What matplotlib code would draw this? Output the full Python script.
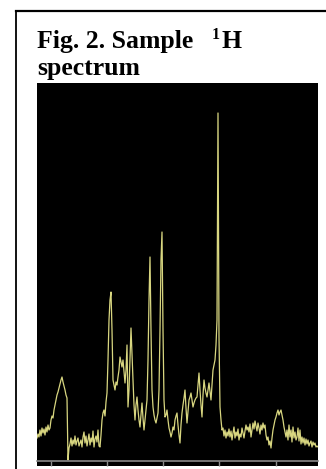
import numpy as np
import matplotlib
matplotlib.use("Agg")
import matplotlib.pyplot as plt
from matplotlib.lines import Line2D
from matplotlib.patches import Rectangle

# Spectrum trace (one sample per screen column)
intensity = [
    23, 27, 24, 31, 25, 33, 28, 32, 26, 34, 29, 36, 31, 33, 41, 45, 43, 51, 56, 61,
    66, 69, 73, 77, 81, 84, 79, 75, 71, 66, 63, 1, 13, 17, 23, 15, 21, 17, 25, 16,
    20, 23, 15, 18, 21, 14, 24, 29, 18, 25, 15, 21, 27, 16, 23, 19, 30, 14, 22, 25,
    19, 31, 15, 14, 26, 41, 48, 51, 45, 59, 68, 101, 141, 161, 169, 131, 81, 76, 71, 79,
    76, 84, 91, 104, 99, 94, 101, 89, 78, 91, 116, 54, 71, 101, 133, 106, 81, 56, 41, 56,
    64, 51, 41, 34, 46, 58, 43, 31, 41, 51, 61, 101, 161, 204, 131, 71, 54, 46, 41, 38,
    43, 48, 71, 131, 201, 229, 131, 61, 44, 46, 51, 41, 33, 29, 24, 28, 34, 31, 41, 45,
    48, 36, 26, 18, 36, 48, 56, 63, 71, 53, 38, 49, 61, 64, 68, 61, 54, 58, 61, 63,
    64, 76, 88, 71, 56, 44, 66, 81, 73, 68, 64, 71, 78, 69, 61, 76, 91, 96, 101, 116,
    141, 348, 124, 54, 41, 31, 33, 25, 31, 23, 29, 25, 32, 24, 30, 21, 28, 34, 23, 29,
    25, 32, 21, 27, 24, 33, 28, 23, 30, 36, 31, 34, 29, 37, 24, 31, 38, 32, 40, 35,
    30, 38, 33, 27, 36, 31, 38, 33, 36, 26, 21, 24, 16, 20, 13, 23, 31, 36, 41, 44,
    48, 51, 46, 49, 51, 46, 41, 34, 29, 24, 31, 21, 36, 24, 31, 19, 34, 23, 29, 21,
    24, 33, 20, 31, 17, 24, 18, 23, 16, 22, 17, 21, 15, 18, 20, 14, 19, 16, 18, 14,
    15, 14,
]
tick_pos = [14, 70, 126, 182, 239]

W, H = 326, 469
fig = plt.figure(figsize=(W / 100, H / 100), dpi=100)
fig.patch.set_facecolor("white")

def px(x, y):
    return x / W, 1 - y / H

# panel: x 37..318, axis line at y=461, top at y=83
ax = fig.add_axes([37 / W, (H - 461) / H, (318 - 37) / W, (461 - 83) / H])
ax.set_facecolor("black")
pos = np.arange(len(intensity))
ax.plot(pos, intensity, color="#d8d680", lw=0.9)
ax.set_xlim(0, 281)
ax.set_ylim(0, 378)
for s in ["top", "left", "right"]:
    ax.spines[s].set_visible(False)
ax.spines["bottom"].set_color("#8a8a8a")
ax.spines["bottom"].set_linewidth(1.2)
ax.set_xticks(tick_pos)
ax.set_xticklabels([])
ax.set_yticks([])
ax.tick_params(axis="x", direction="out", length=3.5, width=1, color="#8a8a8a")

# black strip under the axis line
x0, y0 = px(37, 466)
fig.patches.append(Rectangle((x0, y0), (318 - 37) / W, 5 / H, transform=fig.transFigure,
                             facecolor="black", edgecolor="none", zorder=-1))

# frame lines
fig.add_artist(Line2D([16 / W, 16 / W], [0, 1 - 11 / H], color="black", lw=1.3))
fig.add_artist(Line2D([16 / W, 1], [1 - 11 / H, 1 - 11 / H], color="black", lw=1.6))

# caption
tf = dict(family="Liberation Serif", fontweight="bold", color="black", va="baseline")
fig.text(*px(37, 48), "Fig. 2. Sample", fontsize=18.5, **tf)
fig.text(*px(212, 39), "1", fontsize=11.5, **tf)
fig.text(*px(222, 48), "H", fontsize=18.5, **tf)
fig.text(*px(37, 75), "spectrum", fontsize=18.5, **tf)

fig.savefig("out.png", dpi=100)
